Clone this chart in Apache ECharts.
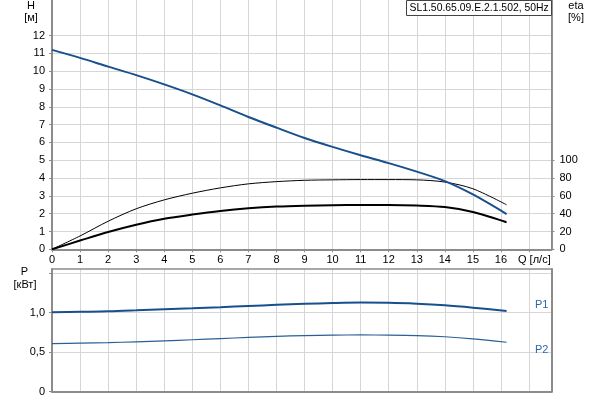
<!DOCTYPE html>
<html>
<head>
<meta charset="utf-8">
<script src="https://cdn.jsdelivr.net/npm/echarts@6.0.0/dist/echarts.min.js"></script>
<style>html,body{margin:0;padding:0;background:#fff}#c{width:600px;height:400px}</style>
</head>
<body>
<div id="c"></div>
<script>
// Flow Q [л/с]
var Q = [0, 1, 2, 3, 4, 5, 6, 7, 8, 9, 10, 11, 12, 13, 14, 15, 16.2];
// Head H [м]
var H = [11.2, 10.75, 10.26, 9.78, 9.26, 8.70, 8.08, 7.43, 6.83, 6.25, 5.75, 5.28, 4.84, 4.36, 3.83, 3.08, 1.98];
// Efficiency curves [%]
var etaPump = [0, 15, 31.5, 45.5, 55.5, 63, 69, 73.5, 76, 77.5, 78, 78.3, 78.3, 78, 75.5, 68, 50];
var etaTotal = [0, 9.8, 19.4, 27.6, 34.3, 39, 43, 46, 48, 49, 49.5, 49.8, 49.8, 49.2, 47.5, 42, 30.3];
// Power P1, P2 [кВт]
var P1 = [1.005, 1.01, 1.015, 1.028, 1.043, 1.055, 1.068, 1.083, 1.097, 1.11, 1.12, 1.126, 1.124, 1.112, 1.092, 1.062, 1.02];
var P2 = [0.608, 0.613, 0.62, 0.63, 0.642, 0.656, 0.671, 0.686, 0.70, 0.709, 0.714, 0.717, 0.715, 0.709, 0.694, 0.668, 0.625];
// Tick label sets
var qLabels = [0, 1, 2, 3, 4, 5, 6, 7, 8, 9, 10, 11, 12, 13, 14, 15, 16];
var hLabels = [0, 1, 2, 3, 4, 5, 6, 7, 8, 9, 10, 11, 12];
var etaLabels = [0, 20, 40, 60, 80, 100];
var pLabels = {0: '0', 0.5: '0,5', 1: '1,0'};

function pairs(xs, ys) { return xs.map(function (x, i) { return [x, ys[i]]; }); }

var FONT = 'Liberation Sans, Arial, sans-serif';
var AX = '#8c8c8c';
var GRIDC = '#d6d6d6';

function curve(xi, yi, data, color, width) {
  return {type: 'line', xAxisIndex: xi, yAxisIndex: yi, data: data, smooth: 0.3,
    showSymbol: false, lineStyle: {color: color, width: width}, z: 4};
}

var chart = echarts.init(document.getElementById('c'), null, {renderer: 'canvas'});
chart.setOption({
  animation: false,
  textStyle: {fontFamily: FONT},
  grid: [
    {left: 52, right: 48.5, top: 0, height: 249.3},
    {left: 52, right: 48.5, top: 269, height: 122.7}
  ],
  xAxis: [
    {gridIndex: 0, type: 'value', min: 0, max: 17.8, interval: 1,
      axisLine: {show: true, onZero: false, lineStyle: {color: AX, width: 2}},
      axisTick: {show: true, length: 3, lineStyle: {color: AX}},
      axisLabel: {margin: 5, fontSize: 11, color: '#000', fontFamily: FONT, showMaxLabel: false,
        formatter: function (v) { return qLabels.indexOf(v) >= 0 ? String(v) : ''; }},
      splitLine: {show: true, lineStyle: {color: GRIDC, width: 1}}},
    {gridIndex: 1, type: 'value', min: 0, max: 17.8, interval: 1, position: 'bottom',
      axisLine: {show: true, onZero: false, lineStyle: {color: AX, width: 2}},
      axisTick: {show: false}, axisLabel: {show: false},
      splitLine: {show: true, lineStyle: {color: GRIDC, width: 1}}},
    {gridIndex: 1, type: 'value', min: 0, max: 17.8, position: 'top',
      axisLine: {show: true, onZero: false, lineStyle: {color: AX, width: 1.5}},
      axisTick: {show: false}, axisLabel: {show: false}, splitLine: {show: false}}
  ],
  yAxis: [
    {gridIndex: 0, type: 'value', min: 0, max: 14, interval: 1,
      axisLine: {show: true, onZero: false, lineStyle: {color: AX, width: 2}},
      axisTick: {show: true, length: 3, lineStyle: {color: AX}, customValues: hLabels},
      axisLabel: {margin: 7, fontSize: 11, color: '#000', fontFamily: FONT,
        formatter: function (v) { return hLabels.indexOf(v) >= 0 ? String(v) : ''; }},
      splitLine: {show: true, lineStyle: {color: GRIDC, width: 1}}},
    {gridIndex: 0, type: 'value', min: 0, max: 280, interval: 20, position: 'right',
      axisLine: {show: true, onZero: false, lineStyle: {color: '#6e6e6e', width: 1.5}},
      axisTick: {show: true, length: 3, lineStyle: {color: AX}, customValues: etaLabels},
      axisLabel: {margin: 8, fontSize: 11, color: '#000', fontFamily: FONT,
        formatter: function (v) { return etaLabels.indexOf(v) >= 0 ? String(v) : ''; }},
      splitLine: {show: false}},
    {gridIndex: 1, type: 'value', min: 0, max: 1.55, interval: 0.5,
      axisLine: {show: true, onZero: false, lineStyle: {color: AX, width: 2}},
      axisTick: {show: true, length: 3, lineStyle: {color: AX}, customValues: [0, 0.5, 1, 1.5]},
      axisLabel: {margin: 7, fontSize: 11, color: '#000', fontFamily: FONT, showMaxLabel: false,
        formatter: function (v) { return pLabels[v] !== undefined ? pLabels[v] : ''; }},
      splitLine: {show: true, lineStyle: {color: GRIDC, width: 1}}},
    {gridIndex: 1, type: 'value', min: 0, max: 1.55, position: 'right',
      axisLine: {show: true, onZero: false, lineStyle: {color: AX, width: 2}},
      axisTick: {show: false}, axisLabel: {show: false}, splitLine: {show: false}}
  ],
  series: [
    curve(0, 1, pairs(Q, etaPump), '#000', 1),
    curve(0, 1, pairs(Q, etaTotal), '#000', 2),
    curve(0, 0, pairs(Q, H), '#17508c', 2),
    curve(1, 2, pairs(Q, P1), '#17508c', 2),
    curve(1, 2, pairs(Q, P2), '#2a5f97', 1.2)
  ],
  graphic: [
    {type: 'rect', z: 100, shape: {x: 406.5, y: 0.5, width: 145, height: 15},
      style: {fill: '#fff', stroke: '#444', lineWidth: 1}},
    {type: 'text', z: 101, x: 409.5, y: 8, style: {text: 'SL1.50.65.09.E.2.1.502, 50Hz', font: '10.4px ' + FONT, fill: '#000', verticalAlign: 'middle'}},
    {type: 'text', z: 101, x: 31, y: 6, style: {text: 'H', font: '11px ' + FONT, fill: '#000', align: 'center', verticalAlign: 'middle'}},
    {type: 'text', z: 101, x: 31, y: 18, style: {text: '[м]', font: '11px ' + FONT, fill: '#000', align: 'center', verticalAlign: 'middle'}},
    {type: 'text', z: 101, x: 576, y: 6, style: {text: 'eta', font: '11px ' + FONT, fill: '#000', align: 'center', verticalAlign: 'middle'}},
    {type: 'text', z: 101, x: 576, y: 18, style: {text: '[%]', font: '11px ' + FONT, fill: '#000', align: 'center', verticalAlign: 'middle'}},
    {type: 'text', z: 101, x: 518, y: 260, style: {text: 'Q [л/с]', font: '11px ' + FONT, fill: '#000', verticalAlign: 'middle'}},
    {type: 'text', z: 101, x: 24.5, y: 272, style: {text: 'P', font: '11px ' + FONT, fill: '#000', align: 'center', verticalAlign: 'middle'}},
    {type: 'text', z: 101, x: 25, y: 285, style: {text: '[кВт]', font: '11px ' + FONT, fill: '#000', align: 'center', verticalAlign: 'middle'}},
    {type: 'text', z: 101, x: 535, y: 305, style: {text: 'P1', font: '11px ' + FONT, fill: '#2a6aad', verticalAlign: 'middle'}},
    {type: 'text', z: 101, x: 535, y: 350, style: {text: 'P2', font: '11px ' + FONT, fill: '#2a6aad', verticalAlign: 'middle'}}
  ]
});
</script>
</body>
</html>
